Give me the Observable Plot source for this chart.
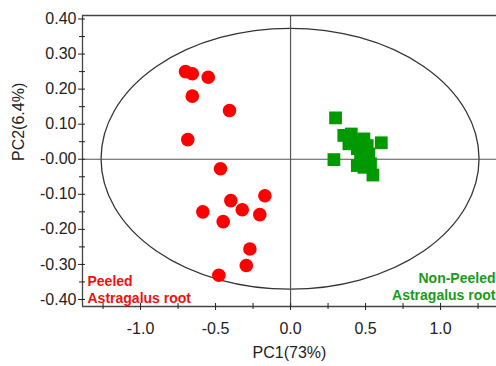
<!DOCTYPE html>
<html>
<head>
<meta charset="utf-8">
<script src="https://cdn.jsdelivr.net/npm/d3@7"></script>
<script src="https://cdn.jsdelivr.net/npm/@observablehq/plot@0.6"></script>
<style>
  html, body { margin: 0; padding: 0; background: #fff; }
  #chart svg { display: block; }
</style>
</head>
<body>
<div id="chart"></div>
<script>
// PCA score plot: Peeled vs Non-Peeled Astragalus root
const groups = ["Peeled", "Non-Peeled"];
const groupLabels = ["Peeled\nAstragalus root", "Non-Peeled\nAstragalus root"];

// Peeled samples (PC1, PC2)
const peeledPC1 = [-0.700, -0.655, -0.549, -0.655, -0.407, -0.685, -0.467, -0.171,
                   -0.398, -0.585, -0.322, -0.205, -0.449, -0.271, -0.295, -0.478];
const peeledPC2 = [0.250, 0.244, 0.234, 0.180, 0.139, 0.056, -0.027, -0.104,
                   -0.118, -0.150, -0.144, -0.158, -0.178, -0.256, -0.303, -0.331];

// Non-Peeled samples (PC1, PC2)
const nonPeeledPC1 = [0.300, 0.605, 0.289, 0.549, 0.355, 0.405, 0.389, 0.433,
                      0.489, 0.511, 0.445, 0.467, 0.522, 0.445, 0.489, 0.533];
const nonPeeledPC2 = [0.118, 0.047, -0.001, -0.045, 0.068, 0.072, 0.044, 0.053,
                      0.058, 0.039, 0.030, 0.011, 0.015, -0.018, -0.023, -0.013];

// Hotelling's T2 ellipse (95%): centre and semi-axes in score units
const ellipseCenter = [0, 0];
const ellipseSemiAxes = [1.26, 0.372];

// Axis ranges and ticks
const xDomain = [-1.387, 1.373];
const yDomain = [-0.42, 0.41];
const xMajorTicks = [-1.0, -0.5, 0.0, 0.5, 1.0];
const xTickLabels = ["-1.0", "-0.5", "0.0", "0.5", "1.0"];
const xMinorTicks = [-1.25, -0.75, -0.25, 0.25, 0.75, 1.25];
const yMajorTicks = [0.4, 0.3, 0.2, 0.1, 0.0, -0.1, -0.2, -0.3, -0.4];
const yTickLabels = ["0.40", "0.30", "0.20", "0.10", "-0.00", "-0.10", "-0.20", "-0.30", "-0.40"];
const yMinorTicks = [0.35, 0.25, 0.15, 0.05, -0.05, -0.15, -0.25, -0.35];
const xTitle = "PC1(73%)";
const yTitle = "PC2(6.4%)";

const colors = {Peeled: "#ff0000", "Non-Peeled": "#009a00"};
const labelColors = {Peeled: "#f01010", "Non-Peeled": "#1a9a1a"};

const scores = [
  ...peeledPC1.map((x, i) => ({group: groups[0], pc1: x, pc2: peeledPC2[i]})),
  ...nonPeeledPC1.map((x, i) => ({group: groups[1], pc1: x, pc2: nonPeeledPC2[i]}))
];

const lookup = (ticks, labels) => d => labels[ticks.findIndex(t => Math.abs(t - d) < 1e-9)];
const blank = () => "";

// Ellipse drawn through the plot's own x and y scales
function confidenceEllipse(index, {x, y}) {
  const cx = x(ellipseCenter[0]), cy = y(ellipseCenter[1]);
  const rx = x(ellipseCenter[0] + ellipseSemiAxes[0]) - cx;
  const ry = cy - y(ellipseCenter[1] + ellipseSemiAxes[1]);
  return d3.create("svg:ellipse")
    .attr("cx", cx).attr("cy", cy).attr("rx", rx).attr("ry", ry)
    .attr("fill", "none").attr("stroke", "#333").attr("stroke-width", 1.3)
    .node();
}

const chart = Plot.plot({
  width: 496,
  height: 366,
  marginTop: 15,
  marginBottom: 60,
  marginLeft: 82,
  marginRight: 0,
  x: {domain: xDomain},
  y: {domain: yDomain},
  style: {fontFamily: "'Liberation Sans', Arial, sans-serif", fontSize: "16px", color: "#222", background: "#fff", overflow: "visible"},
  marks: [
    confidenceEllipse,
    Plot.ruleX([0], {stroke: "#555", strokeWidth: 1.2}),
    Plot.ruleY([0], {stroke: "#555", strokeWidth: 1.2}),
    // frame: left, top and bottom edges
    Plot.ruleX([xDomain[0]], {stroke: "#444", strokeWidth: 1.3}),
    Plot.ruleY([yDomain[1]], {stroke: "#444", strokeWidth: 1.3}),
    Plot.ruleY([yDomain[0]], {stroke: "#444", strokeWidth: 1.3}),
    // tick labels
    Plot.axisX(xMajorTicks, {tickSize: 0, tickPadding: 16, tickFormat: lookup(xMajorTicks, xTickLabels), label: null, fontSize: 16}),
    Plot.axisY(yMajorTicks, {tickSize: 0, tickPadding: 6, tickFormat: lookup(yMajorTicks, yTickLabels), label: null, fontSize: 16}),
    // tick marks crossing the axis lines
    Plot.axisX(xMajorTicks, {tickSize: 7, dy: -3, tickFormat: blank, label: null}),
    Plot.axisX(xMinorTicks, {tickSize: 6, dy: -3, tickFormat: blank, label: null}),
    Plot.axisY(yMajorTicks, {tickSize: 7, dx: 3, tickFormat: blank, label: null}),
    Plot.axisY(yMinorTicks, {tickSize: 6, dx: 3, tickFormat: blank, label: null}),
    Plot.dot(scores.filter(d => d.group === groups[0]), {
      x: "pc1", y: "pc2", r: 6.8, fill: colors.Peeled, stroke: "none", symbol: "circle"
    }),
    Plot.dot(scores.filter(d => d.group === groups[1]), {
      x: "pc1", y: "pc2", r: 7.2, fill: colors["Non-Peeled"], stroke: "none", symbol: "square"
    }),
    Plot.text([groupLabels[0]], {
      frameAnchor: "bottom-left", dx: 5, dy: -4, textAnchor: "start", lineAnchor: "bottom",
      lineHeight: 1.2, fontSize: 14, fontWeight: "bold", fill: labelColors.Peeled
    }),
    Plot.text([groupLabels[1]], {
      frameAnchor: "bottom-right", dx: -1, dy: -7, textAnchor: "end", lineAnchor: "bottom",
      lineHeight: 1.2, fontSize: 14, fontWeight: "bold", fill: labelColors["Non-Peeled"]
    }),
    Plot.text([xTitle], {frameAnchor: "bottom", dy: 46, lineAnchor: "middle", fontSize: 16}),
    Plot.text([yTitle], {frameAnchor: "left", dx: -64, rotate: -90, lineAnchor: "middle", fontSize: 16})
  ]
});

document.getElementById("chart").appendChild(chart);
</script>
</body>
</html>
